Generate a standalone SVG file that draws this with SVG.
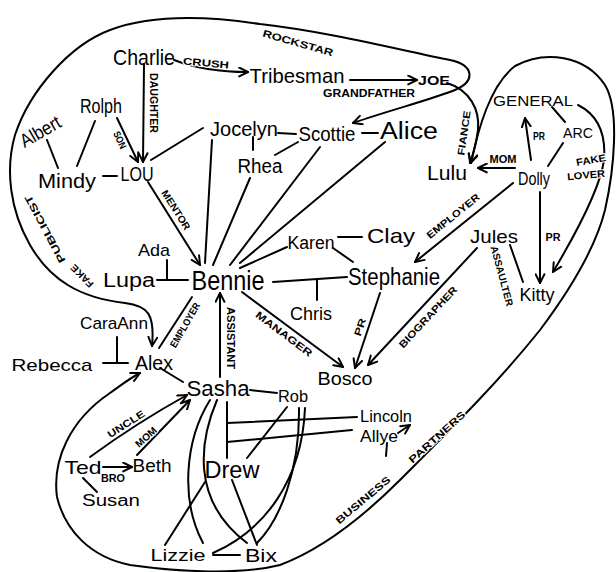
<svg xmlns="http://www.w3.org/2000/svg" width="616" height="572" viewBox="0 0 616 572">
<defs>
<marker id="ah" viewBox="0 0 10 10" refX="9" refY="5" markerWidth="11" markerHeight="11" markerUnits="userSpaceOnUse" orient="auto-start-reverse"><path d="M1,1 L9,5 L1,9" fill="none" stroke="#000" stroke-width="1.8" stroke-linecap="round" stroke-linejoin="round"/></marker>
<style>
.c path,.c line{fill:none;stroke:#000;stroke-width:2;stroke-linecap:round;stroke-linejoin:round}
.a{marker-end:url(#ah)}
.b{marker-start:url(#ah);marker-end:url(#ah)}
text{font-family:"Liberation Sans","DejaVu Sans",sans-serif;fill:#000;text-anchor:middle}
.l{font-weight:bold;font-size:10px;paint-order:stroke;stroke:#fff;stroke-width:2px}
</style>
</defs>
<rect width="616" height="572" fill="#fff"/>
<g id="connectors" class="c">
<path class="b" d="M353,123 C390,110 430,100 455,90 C476,81 474,65 450,60 C400,50 330,32 260,24 C200,15 150,15 110,30 C70,45 30,90 15,135 C5,170 10,210 30,245 C50,280 80,298 125,303 C148,306 155,314 152,346"/>
<path class="b" d="M471,163 C478,130 490,85 515,66 C545,50 585,55 605,85 C620,110 614,170 605,210 C595,250 570,290 540,330 C500,380 460,420 400,480 C360,520 320,550 280,565 C240,575 180,572 130,565 C90,557 65,530 57,497 C52,460 70,420 110,393 C120,386 130,378 140,373"/>
<path class="a" d="M174,60 Q205,72 248,72"/>
<path class="a" d="M350,80 L417,80"/>
<path class="a" d="M447,83 C470,90 480,110 478,130 C476,145 473,155 470,163"/>
<path class="a" d="M578,105 C598,115 606,135 604,160 C600,190 575,235 553,272"/>
<path class="a" d="M515,168 L478,168"/>
<path class="a" d="M531,160 L525,118"/>
<path d="M552,107 L565,122"/>
<path d="M563,143 L548,166"/>
<path class="a" d="M540,192 L540,283"/>
<path d="M510,245 L523,282"/>
<path class="a" d="M513,183 L415,262"/>
<path class="a" d="M477,248 L368,365"/>
<path class="a" d="M380,293 L355,368"/>
<path class="a" d="M242,292 L343,367"/>
<path d="M273,282 L347,277 M317,280 L317,300"/>
<path d="M157,280 L188,280 M167,260 L167,280"/>
<path class="a" d="M148,182 L200,265"/>
<path class="a" d="M144,64 L143,162"/>
<path class="a" d="M117,118 L138,162"/>
<path d="M47,140 L58,168"/>
<path d="M95,121 L77,166"/>
<path d="M103,176 L117,176"/>
<path d="M151,160 L203,128"/>
<path d="M278,133 L296,134"/>
<path d="M253,137 L253,150"/>
<path d="M275,155 L298,142"/>
<path d="M362,133 L378,133"/>
<path d="M212,140 L205,263"/>
<path d="M250,178 L213,265"/>
<path d="M320,147 L230,265"/>
<path d="M385,142 L240,263"/>
<path d="M287,247 L240,268"/>
<path d="M338,237 L362,237"/>
<path d="M333,248 L353,262"/>
<path d="M192,297 L159,348"/>
<path class="a" d="M220,377 L220,293"/>
<path d="M103,363 L128,363 M117,337 L117,363"/>
<path d="M160,368 L183,382"/>
<path d="M250,390 L277,393"/>
<path class="a" d="M90,457 C120,435 160,410 187,395"/>
<path class="a" d="M137,455 L190,400"/>
<path class="a" d="M103,467 L132,467"/>
<path d="M83,478 L97,492"/>
<path d="M227,402 L227,458"/>
<path d="M227,423 L357,417"/>
<path d="M227,442 L352,430"/>
<path d="M287,407 L247,458"/>
<path d="M299,408 C300,470 280,520 257,543"/>
<path d="M305,408 C302,480 265,530 213,553"/>
<path d="M210,400 C185,440 180,500 203,543"/>
<path d="M217,400 C200,440 190,500 247,543"/>
<path d="M205,482 L165,545"/>
<path d="M232,480 L257,545"/>
<path d="M213,555 L240,555"/>
<path class="a" d="M398,433 L410,425"/>
<path d="M387,443 L386,456"/>
</g>
<g id="labels">
<text class="l" transform="translate(298,43) rotate(16)" y="3.5" textLength="73" lengthAdjust="spacingAndGlyphs">ROCKSTAR</text>
<text class="l" transform="translate(206,63) rotate(5)" y="3.5" textLength="46" lengthAdjust="spacingAndGlyphs">CRUSH</text>
<text class="l" x="369" y="97" textLength="92" lengthAdjust="spacingAndGlyphs">GRANDFATHER</text>
<text class="l" transform="translate(464,133) rotate(-82)" y="3.5" textLength="45" lengthAdjust="spacingAndGlyphs">FIANCE</text>
<text class="l" transform="translate(153,103) rotate(90)" y="3.5" textLength="60" lengthAdjust="spacingAndGlyphs">DAUGHTER</text>
<text class="l" transform="translate(120,140) rotate(65)" y="3.5" textLength="18" lengthAdjust="spacingAndGlyphs">SON</text>
<text class="l" transform="translate(176,210) rotate(58)" y="3.5" textLength="45" lengthAdjust="spacingAndGlyphs">MENTOR</text>
<text class="l" x="503" y="163" textLength="27" lengthAdjust="spacingAndGlyphs">MOM</text>
<text class="l" x="539" y="140" textLength="12" lengthAdjust="spacingAndGlyphs">PR</text>
<text class="l" x="553" y="241" textLength="15" lengthAdjust="spacingAndGlyphs">PR</text>
<text class="l" transform="translate(591,160) rotate(-10)" y="3.5" textLength="30" lengthAdjust="spacingAndGlyphs">FAKE</text>
<text class="l" transform="translate(586,175) rotate(-5)" y="3.5" textLength="38" lengthAdjust="spacingAndGlyphs">LOVER</text>
<text class="l" transform="translate(453,216) rotate(-39)" y="3.5" textLength="65" lengthAdjust="spacingAndGlyphs">EMPLOYER</text>
<text class="l" transform="translate(502,276) rotate(75)" y="3.5" textLength="62" lengthAdjust="spacingAndGlyphs">ASSAULTER</text>
<text class="l" transform="translate(428,317) rotate(-47)" y="3.5" textLength="80" lengthAdjust="spacingAndGlyphs">BIOGRAPHER</text>
<text class="l" transform="translate(360,327) rotate(-72)" y="3.5" textLength="18" lengthAdjust="spacingAndGlyphs">PR</text>
<text class="l" transform="translate(284,334) rotate(37)" y="3.5" textLength="68" lengthAdjust="spacingAndGlyphs">MANAGER</text>
<text class="l" transform="translate(185,325) rotate(-60)" y="3.5" textLength="50" lengthAdjust="spacingAndGlyphs">EMPLOYER</text>
<text class="l" transform="translate(230,338) rotate(90)" y="3.5" textLength="62" lengthAdjust="spacingAndGlyphs">ASSISTANT</text>
<text class="l" transform="translate(82,276) rotate(-135)" y="3.5" textLength="28" lengthAdjust="spacingAndGlyphs">FAKE</text>
<text class="l" transform="translate(45,229) rotate(-118)" y="3.5" textLength="75" lengthAdjust="spacingAndGlyphs">PUBLICIST</text>
<text class="l" transform="translate(126,424) rotate(-33)" y="3.5" textLength="42" lengthAdjust="spacingAndGlyphs">UNCLE</text>
<text class="l" transform="translate(146,437) rotate(-42)" y="3.5" textLength="25" lengthAdjust="spacingAndGlyphs">MOM</text>
<text class="l" x="113" y="482" textLength="24" lengthAdjust="spacingAndGlyphs">BRO</text>
<text class="l" transform="translate(363,500) rotate(-40)" y="3.5" textLength="68" lengthAdjust="spacingAndGlyphs">BUSINESS</text>
<text class="l" transform="translate(437,437) rotate(-42)" y="3.5" textLength="72" lengthAdjust="spacingAndGlyphs">PARTNERS</text>
</g>
<g id="charlie"><text x="144" y="65" font-size="22" textLength="62" lengthAdjust="spacingAndGlyphs">Charlie</text></g>
<g id="tribesman"><text x="297" y="83" font-size="21" textLength="95" lengthAdjust="spacingAndGlyphs">Tribesman</text></g>
<g id="joe"><text x="434" y="85" font-size="13" font-weight="bold" textLength="32" lengthAdjust="spacingAndGlyphs">JOE</text></g>
<g id="rolph"><text x="101" y="113" font-size="20" textLength="42" lengthAdjust="spacingAndGlyphs">Rolph</text></g>
<g id="albert"><text transform="translate(40,131) rotate(-30)" y="7" font-size="19" textLength="44" lengthAdjust="spacingAndGlyphs">Albert</text></g>
<g id="mindy"><text x="67" y="188" font-size="20" textLength="58" lengthAdjust="spacingAndGlyphs">Mindy</text></g>
<g id="lou"><text x="137" y="181" font-size="20" textLength="33" lengthAdjust="spacingAndGlyphs">LOU</text></g>
<g id="jocelyn"><text x="244" y="136" font-size="20" textLength="68" lengthAdjust="spacingAndGlyphs">Jocelyn</text></g>
<g id="rhea"><text x="260" y="173" font-size="20" textLength="45" lengthAdjust="spacingAndGlyphs">Rhea</text></g>
<g id="scottie"><text x="327" y="141" font-size="20" textLength="57" lengthAdjust="spacingAndGlyphs">Scottie</text></g>
<g id="alice"><text x="409" y="139" font-size="23" textLength="58" lengthAdjust="spacingAndGlyphs">Alice</text></g>
<g id="lulu"><text x="447" y="180" font-size="20" textLength="40" lengthAdjust="spacingAndGlyphs">Lulu</text></g>
<g id="general"><text x="533" y="106" font-size="15" textLength="80" lengthAdjust="spacingAndGlyphs">GENERAL</text></g>
<g id="arc"><text x="578" y="138" font-size="15" textLength="30" lengthAdjust="spacingAndGlyphs">ARC</text></g>
<g id="dolly"><text x="534" y="185" font-size="19" textLength="32" lengthAdjust="spacingAndGlyphs">Dolly</text></g>
<g id="kitty"><text x="537" y="301" font-size="19" textLength="35" lengthAdjust="spacingAndGlyphs">Kitty</text></g>
<g id="jules"><text x="494" y="243" font-size="19" textLength="48" lengthAdjust="spacingAndGlyphs">Jules</text></g>
<g id="clay"><text x="391" y="243" font-size="21" textLength="48" lengthAdjust="spacingAndGlyphs">Clay</text></g>
<g id="karen"><text x="311" y="249" font-size="18" textLength="47" lengthAdjust="spacingAndGlyphs">Karen</text></g>
<g id="stephanie"><text x="394" y="285" font-size="23" textLength="92" lengthAdjust="spacingAndGlyphs">Stephanie</text></g>
<g id="bennie"><text x="228" y="290" font-size="28" textLength="73" lengthAdjust="spacingAndGlyphs">Bennie</text></g>
<g id="chris"><text x="311" y="320" font-size="18" textLength="42" lengthAdjust="spacingAndGlyphs">Chris</text></g>
<g id="ada"><text x="154" y="256" font-size="17" textLength="32" lengthAdjust="spacingAndGlyphs">Ada</text></g>
<g id="lupa"><text x="129" y="287" font-size="20" textLength="52" lengthAdjust="spacingAndGlyphs">Lupa</text></g>
<g id="caraann"><text x="114" y="329" font-size="17" textLength="68" lengthAdjust="spacingAndGlyphs">CaraAnn</text></g>
<g id="rebecca"><text x="52" y="371" font-size="17" textLength="81" lengthAdjust="spacingAndGlyphs">Rebecca</text></g>
<g id="alex"><text x="154" y="370" font-size="21" textLength="38" lengthAdjust="spacingAndGlyphs">Alex</text></g>
<g id="bosco"><text x="345" y="385" font-size="18" textLength="55" lengthAdjust="spacingAndGlyphs">Bosco</text></g>
<g id="sasha"><text x="218" y="396" font-size="22" textLength="63" lengthAdjust="spacingAndGlyphs">Sasha</text></g>
<g id="rob"><text x="293" y="402" font-size="17" textLength="30" lengthAdjust="spacingAndGlyphs">Rob</text></g>
<g id="lincoln"><text x="386" y="422" font-size="16" textLength="52" lengthAdjust="spacingAndGlyphs">Lincoln</text></g>
<g id="allye"><text x="379" y="442" font-size="17" textLength="38" lengthAdjust="spacingAndGlyphs">Allye</text></g>
<g id="ted"><text x="83" y="474" font-size="19" textLength="37" lengthAdjust="spacingAndGlyphs">Ted</text></g>
<g id="beth"><text x="152" y="472" font-size="18" textLength="39" lengthAdjust="spacingAndGlyphs">Beth</text></g>
<g id="susan"><text x="111" y="506" font-size="16" textLength="58" lengthAdjust="spacingAndGlyphs">Susan</text></g>
<g id="drew"><text x="232" y="478" font-size="24" textLength="55" lengthAdjust="spacingAndGlyphs">Drew</text></g>
<g id="lizzie"><text x="178" y="561" font-size="16" textLength="55" lengthAdjust="spacingAndGlyphs">Lizzie</text></g>
<g id="bix"><text x="261" y="562" font-size="18" textLength="32" lengthAdjust="spacingAndGlyphs">Bix</text></g>
</svg>
